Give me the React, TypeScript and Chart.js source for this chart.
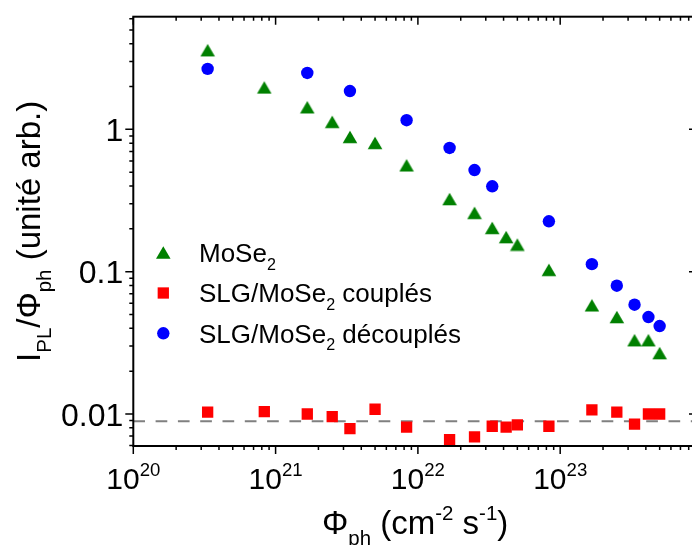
import React, { useEffect, useRef } from "react";
import { Chart, registerables } from "chart.js";

Chart.register(...registerables);

// ---- Data ----
const fluxMoSe2 = [3.33e20, 8.33e20, 1.67e21, 2.5e21, 3.33e21, 5e21, 8.33e21, 1.67e22, 2.5e22, 3.33e22, 4.17e22, 5e22, 8.33e22, 1.67e23, 2.5e23, 3.33e23, 4.17e23, 5e23];
const valuesMoSe2 = [3.6, 1.97, 1.43, 1.13, 0.885, 0.803, 0.559, 0.324, 0.259, 0.203, 0.175, 0.155, 0.103, 0.058, 0.048, 0.033, 0.033, 0.0268];

const fluxCoupled = [3.33e20, 8.33e20, 1.67e21, 2.5e21, 3.33e21, 5e21, 8.33e21, 1.67e22, 2.5e22, 3.33e22, 4.17e22, 5e22, 8.33e22, 1.67e23, 2.5e23, 3.33e23, 4.17e23, 5e23];
const valuesCoupled = [0.0103, 0.0104, 0.01, 0.0096, 0.0079, 0.0108, 0.0081, 0.0066, 0.0069, 0.0082, 0.0081, 0.0084, 0.0082, 0.0107, 0.0103, 0.0085, 0.01, 0.01];

const fluxDecoupled = [3.33e20, 1.67e21, 3.33e21, 8.33e21, 1.67e22, 2.5e22, 3.33e22, 8.33e22, 1.67e23, 2.5e23, 3.33e23, 4.17e23, 5e23];
const valuesDecoupled = [2.66, 2.49, 1.86, 1.16, 0.74, 0.518, 0.398, 0.226, 0.113, 0.0797, 0.0586, 0.048, 0.0415];

const referenceLevel = 0.0089;

const xMin = 1e20;
const xMax = 9.15e23;
const yMin = 0.00596;
const yMax = 6.19;

const xTickExponents = [20, 21, 22, 23];
const yTickValues = [0.01, 0.1, 1];
const yTickLabels = ["0.01", "0.1", "1"];

type Run = { t: string; s?: "sub" | "sup" };
const legendEntries: { runs: Run[]; marker: string }[] = [
  { runs: [{ t: "MoSe" }, { t: "2", s: "sub" }], marker: "triangle" },
  { runs: [{ t: "SLG/MoSe" }, { t: "2", s: "sub" }, { t: " couplés" }], marker: "rect" },
  { runs: [{ t: "SLG/MoSe" }, { t: "2", s: "sub" }, { t: " découplés" }], marker: "circle" },
];
const xTitle: Run[] = [{ t: "Φ" }, { t: "ph", s: "sub" }, { t: " (cm" }, { t: "-2", s: "sup" }, { t: " s" }, { t: "-1", s: "sup" }, { t: ")" }];
const yTitle: Run[] = [{ t: "I" }, { t: "PL", s: "sub" }, { t: "/Φ" }, { t: "ph", s: "sub" }, { t: " (unité arb.)" }];

// ---- Styles ----
const FONT = "'Liberation Sans', Arial, Helvetica, sans-serif";
const GREEN = "#008000";
const RED = "#ff0000";
const BLUE = "#0000ff";
const CANVAS_W = 720;
const CANVAS_H = 545;

function makeTriangle(): HTMLCanvasElement {
  const c = document.createElement("canvas");
  c.width = 16;
  c.height = 14;
  const g = c.getContext("2d")!;
  g.fillStyle = GREEN;
  g.beginPath();
  g.moveTo(8 - 7.3, 7 + 6.3);
  g.lineTo(8 + 7.3, 7 + 6.3);
  g.lineTo(8, 7 - 6.3);
  g.closePath();
  g.fill();
  return c;
}

function drawRuns(ctx: CanvasRenderingContext2D, runs: Run[], x: number, y: number, size: number, align: "left" | "center" | "right", subDrop = 0.27) {
  const small = size * 0.62;
  let total = 0;
  const widths: number[] = [];
  for (const r of runs) {
    ctx.font = `${r.s ? small : size}px ${FONT}`;
    const w = ctx.measureText(r.t).width;
    widths.push(w);
    total += w;
  }
  let cx = align === "left" ? x : align === "center" ? x - total / 2 : x - total;
  runs.forEach((r, i) => {
    ctx.font = `${r.s ? small : size}px ${FONT}`;
    const dy = r.s === "sub" ? size * subDrop : r.s === "sup" ? -size * 0.42 : 0;
    ctx.fillText(r.t, cx, y + dy);
    cx += widths[i];
  });
}

function drawMarker(ctx: CanvasRenderingContext2D, kind: string, x: number, y: number) {
  ctx.beginPath();
  if (kind === "triangle") {
    ctx.fillStyle = GREEN;
    ctx.moveTo(x - 7.3, y + 6.3);
    ctx.lineTo(x + 7.3, y + 6.3);
    ctx.lineTo(x, y - 6.3);
    ctx.closePath();
  } else if (kind === "rect") {
    ctx.fillStyle = RED;
    ctx.rect(x - 5.65, y - 5.65, 11.3, 11.3);
  } else {
    ctx.fillStyle = BLUE;
    ctx.arc(x, y, 6.2, 0, Math.PI * 2);
  }
  ctx.fill();
}

const originAxes = {
  id: "originAxes",
  afterDraw(chart: any) {
    const ctx: CanvasRenderingContext2D = chart.ctx;
    const xs = chart.scales.x;
    const ys = chart.scales.y;
    const { left, right, top, bottom } = chart.chartArea;
    ctx.save();
    ctx.strokeStyle = "#000";
    ctx.fillStyle = "#000";
    ctx.lineCap = "butt";

    // ticks
    ctx.lineWidth = 1.5;
    ctx.beginPath();
    for (let e = 19; e <= 24; e++) {
      for (let k = 1; k <= 9; k++) {
        const v = k * Math.pow(10, e);
        if (v < xMin * 0.999 || v > xMax) continue;
        const px = xs.getPixelForValue(v);
        const len = k === 1 ? 8 : 4;
        ctx.moveTo(px, bottom);
        ctx.lineTo(px, bottom + len);
        ctx.moveTo(px, top);
        ctx.lineTo(px, top + len);
      }
    }
    for (let e = -3; e <= 1; e++) {
      for (let k = 1; k <= 9; k++) {
        const v = k * Math.pow(10, e);
        if (v < yMin || v > yMax) continue;
        const py = ys.getPixelForValue(v);
        const len = k === 1 ? 8 : 4;
        ctx.moveTo(left, py);
        ctx.lineTo(left - len, py);
        ctx.moveTo(right, py);
        ctx.lineTo(right - len, py);
      }
    }
    ctx.stroke();

    // frame
    ctx.lineWidth = 2;
    ctx.strokeRect(left, top, right - left, bottom - top);

    // tick labels
    ctx.textBaseline = "alphabetic";
    const YF = 32;
    yTickValues.forEach((v, i) => {
      const py = ys.getPixelForValue(v);
      drawRuns(ctx, [{ t: yTickLabels[i] }], left - 10, py + YF * 0.36, YF, "right");
    });
    const XF = 30;
    xTickExponents.forEach((e) => {
      const px = xs.getPixelForValue(Math.pow(10, e));
      drawRuns(ctx, [{ t: "10" }, { t: String(e), s: "sup" }], px, 489, XF, "center");
    });

    // axis titles
    drawRuns(ctx, xTitle, (left + right) / 2, 534, 33, "center", 0.33);
    ctx.save();
    ctx.translate(40, (top + bottom) / 2);
    ctx.rotate(-Math.PI / 2);
    drawRuns(ctx, yTitle, 0, 0, 33, "center", 0.32);
    ctx.restore();

    // legend
    const legendY = [252.5, 293, 333.3];
    legendEntries.forEach((en, i) => {
      drawMarker(ctx, en.marker, 163.3, legendY[i]);
      ctx.fillStyle = "#000";
      drawRuns(ctx, en.runs, 199, legendY[i] + 26 * 0.36, 26, "left", 0.3);
    });
    ctx.restore();
  },
};

export default function App() {
  const ref = useRef<HTMLCanvasElement>(null);
  useEffect(() => {
    if (!ref.current) return;
    const tri = makeTriangle();
    const toPts = (xs: number[], ys: number[]) => xs.map((x, i) => ({ x, y: ys[i] }));
    const chart = new Chart(ref.current, {
      type: "scatter",
      data: {
        datasets: [
          {
            label: "MoSe2",
            data: toPts(fluxMoSe2, valuesMoSe2),
            pointStyle: tri as any,
            pointRadius: 8,
            backgroundColor: GREEN,
            borderWidth: 0,
          },
          {
            label: "SLG/MoSe2 couplés",
            data: toPts(fluxCoupled, valuesCoupled),
            pointStyle: "rect",
            pointRadius: 8,
            backgroundColor: RED,
            borderColor: RED,
            borderWidth: 0,
          },
          {
            label: "SLG/MoSe2 découplés",
            data: toPts(fluxDecoupled, valuesDecoupled),
            pointStyle: "circle",
            pointRadius: 6.2,
            backgroundColor: BLUE,
            borderColor: BLUE,
            borderWidth: 0,
          },
          {
            type: "line",
            label: "ref",
            data: [
              { x: xMin, y: referenceLevel },
              { x: xMax, y: referenceLevel },
            ],
            borderColor: "#808080",
            borderWidth: 2,
            borderDash: [11.7, 10.6],
            pointRadius: 0,
            showLine: true,
          } as any,
        ],
      },
      options: {
        animation: false,
        responsive: false,
        devicePixelRatio: 1,
        layout: { padding: { left: 133.3, top: 16.7, right: CANVAS_W - 697, bottom: CANVAS_H - 446 } },
        plugins: { legend: { display: false }, tooltip: { enabled: false } },
        scales: {
          x: { type: "logarithmic", min: xMin, max: xMax, display: false },
          y: { type: "logarithmic", min: yMin, max: yMax, display: false },
        },
      },
      plugins: [originAxes],
    });
    return () => chart.destroy();
  }, []);
  return (
    <div style={{ position: "fixed", left: 0, top: 0, width: 692, height: 545, overflow: "hidden", background: "#fff" }}>
      <canvas ref={ref} width={CANVAS_W} height={CANVAS_H} style={{ display: "block", width: CANVAS_W, height: CANVAS_H }} />
    </div>
  );
}
